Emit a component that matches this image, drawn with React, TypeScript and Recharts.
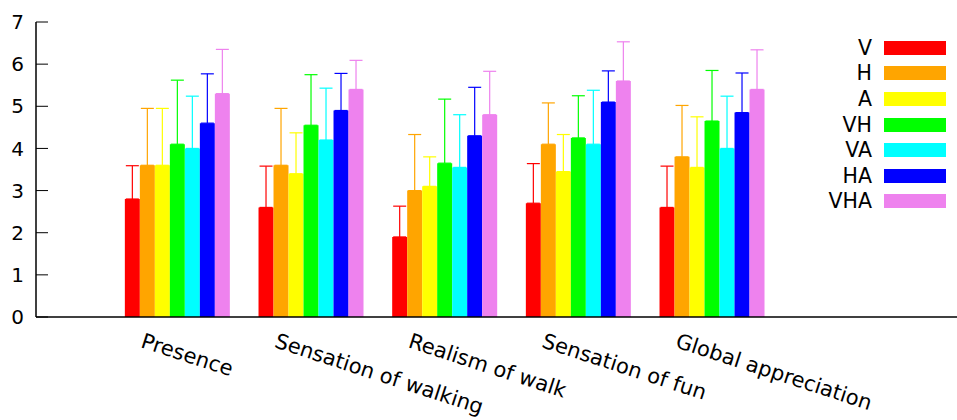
import { Bar, BarChart, ErrorBar, Legend, XAxis, YAxis } from "recharts";

const categories = [
  "Presence",
  "Sensation of walking",
  "Realism of walk",
  "Sensation of fun",
  "Global appreciation",
  "",
];

const seriesNames = ["V", "H", "A", "VH", "VA", "HA", "VHA"];
const seriesColors = ["#ff0000", "#ffa500", "#ffff00", "#00ff00", "#00ffff", "#0000ff", "#ee82ee"];

// mean scores per condition (last category is empty in the source)
const vScores = [2.8, 2.6, 1.9, 2.7, 2.6, 0];
const hScores = [3.6, 3.6, 3.0, 4.1, 3.8, 0];
const aScores = [3.6, 3.4, 3.1, 3.45, 3.55, 0];
const vhScores = [4.1, 4.55, 3.65, 4.25, 4.65, 0];
const vaScores = [4.0, 4.2, 3.55, 4.1, 4.0, 0];
const haScores = [4.6, 4.9, 4.3, 5.1, 4.85, 0];
const vhaScores = [5.3, 5.4, 4.8, 5.6, 5.4, 0];

// upper error (standard deviation)
const vErr = [0.79, 0.98, 0.73, 0.94, 0.98, 0];
const hErr = [1.35, 1.35, 1.33, 0.98, 1.22, 0];
const aErr = [1.35, 0.97, 0.7, 0.88, 1.2, 0];
const vhErr = [1.52, 1.2, 1.52, 1.0, 1.2, 0];
const vaErr = [1.24, 1.23, 1.25, 1.28, 1.24, 0];
const haErr = [1.17, 0.88, 1.15, 0.74, 0.94, 0];
const vhaErr = [1.05, 0.69, 1.03, 0.93, 0.94, 0];

const yTicks = [0, 1, 2, 3, 4, 5, 6, 7];

const scores = [vScores, hScores, aScores, vhScores, vaScores, haScores, vhaScores];
const errors = [vErr, hErr, aErr, vhErr, vaErr, haErr, vhaErr];

const data = categories.map((name, i) => {
  const row: Record<string, any> = { name };
  seriesNames.forEach((s, k) => {
    row[s] = scores[k][i];
    row[s + "_err"] = [0, errors[k][i]];
  });
  return row;
});

const FONT = "DejaVu Sans";

const CategoryTick = (props: any) => {
  const { x, y, payload } = props;
  const ax = x - 37;
  const ay = y + 30;
  return (
    <text
      x={ax}
      y={ay}
      transform={`rotate(18, ${ax}, ${ay})`}
      textAnchor="start"
      fontSize={21}
      fontFamily={FONT}
      fill="#000"
    >
      {payload.value}
    </text>
  );
};

const LegendBox = () => (
  <div style={{ width: 150, fontFamily: FONT, fontSize: 20.5, color: "#000" }}>
    {seriesNames.map((s, k) => (
      <div
        key={s}
        style={{
          height: 25.6,
          display: "flex",
          alignItems: "center",
          justifyContent: "flex-end",
        }}
      >
        <span>{s}</span>
        <span
          style={{
            display: "inline-block",
            width: 62,
            height: 14,
            marginLeft: 12,
            background: seriesColors[k],
          }}
        />
      </div>
    ))}
  </div>
);

export default function App() {
  return (
    <div
      style={{
        position: "absolute",
        left: 0,
        top: 0,
        width: 957,
        height: 420,
        overflow: "hidden",
        background: "#fff",
      }}
    >
      <BarChart
        width={970}
        height={420}
        data={data}
        margin={{ top: 22, right: 3, left: 0, bottom: 0 }}
        barCategoryGap={14.85}
        barGap={0}
      >
        <XAxis
          dataKey="name"
          height={103}
          padding={{ left: 74, right: 55 }}
          tickLine={false}
          tickSize={0}
          tickMargin={0}
          axisLine={{ stroke: "#000", strokeWidth: 1.5 }}
          tick={<CategoryTick />}
          interval={0}
        />
        <XAxis xAxisId="top" orientation="top" dataKey="name" height={0} tick={false} tickLine={false} axisLine={{ stroke: "#000", strokeWidth: 1.5 }} />
        <YAxis
          domain={[0, 7]}
          ticks={yTicks}
          width={36}
          tickSize={-12}
          tickMargin={24}
          axisLine={{ stroke: "#000", strokeWidth: 1.5 }}
          tickLine={{ stroke: "#000" }}
          tick={{ fontSize: 20, fontFamily: FONT, fill: "#000" }}
          interval={0}
        />
        <YAxis
          yAxisId="right"
          orientation="right"
          domain={[0, 7]}
          ticks={yTicks}
          width={0}
          tickSize={-12}
          tick={() => <g />}
          axisLine={{ stroke: "#000", strokeWidth: 1.5 }}
          tickLine={{ stroke: "#000" }}
        />
        <Legend
          layout="vertical"
          align="center"
          verticalAlign="middle"
          wrapperStyle={{ position: "absolute", left: 796, top: 35, width: 150 }}
          content={<LegendBox />}
        />
        {seriesNames.map((s, k) => (
          <Bar key={s} dataKey={s} fill={seriesColors[k]} isAnimationActive={false}>
            <ErrorBar dataKey={s + "_err"} width={6.5} stroke={seriesColors[k]} strokeWidth={1.2} direction="y" />
          </Bar>
        ))}
      </BarChart>
    </div>
  );
}
